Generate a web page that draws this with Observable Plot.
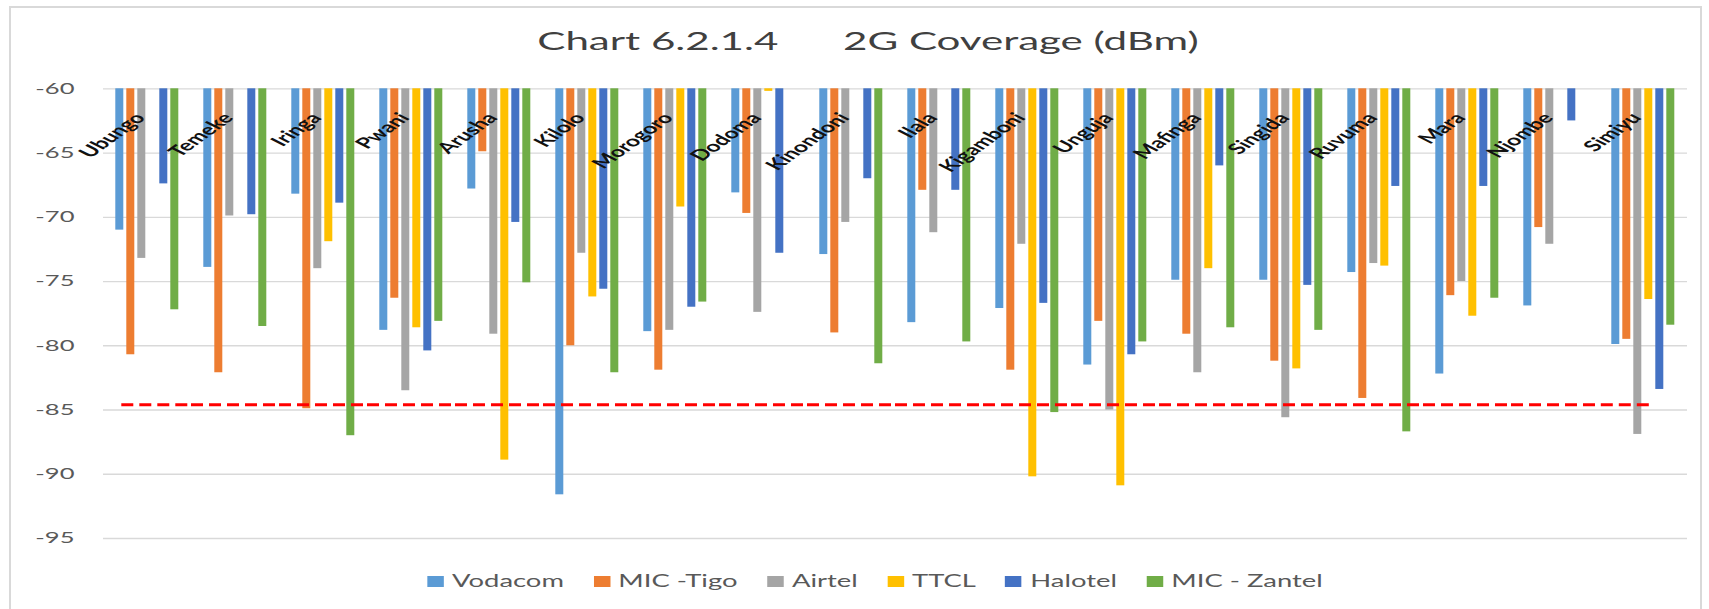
<!DOCTYPE html>
<html>
<head>
<meta charset="utf-8">
<script src="https://cdn.jsdelivr.net/npm/d3@7"></script>
<script src="https://cdn.jsdelivr.net/npm/@observablehq/plot@0.6"></script>
<style>
  body { margin: 0; background: #fff; font-family: Lato, "Open Sans", sans-serif; }
  #wrap { position: relative; width: 1709px; height: 609px; overflow: hidden; background: #fff; }
  #frame { position: absolute; left: 9px; top: 6px; width: 1693px; height: 640px; border: 2px solid #d9d9d9; box-sizing: border-box; pointer-events: none; }
  #title { position: absolute; left: 868px; top: 25px; transform: translateX(-50%) scaleX(1.65); font-size: 25.5px; line-height: 30px; color: #404040; white-space: pre; }
  #chart { position: absolute; left: 0; top: 60px; }
  #legend { position: absolute; left: 875px; top: 571px; transform: translateX(-50%) scaleX(1.65); display: flex; align-items: center; gap: 18px; font-size: 16.6px; line-height: 20px; color: #595959; white-space: nowrap; }
  #legend .item { display: flex; align-items: center; }
  #legend .sw { width: 10px; height: 11px; margin-right: 5px; display: inline-block; }
</style>
</head>
<body>
<div id="wrap">
  <div id="frame"></div>
  <div id="title">Chart 6.2.1.4      2G Coverage (dBm)</div>
  <div id="chart"></div>
  <div id="legend"></div>
</div>
<script>
// ---- data ----
const regions = ["Ubungo","Temeke","Iringa","Pwani","Arusha","Kilolo","Morogoro","Dodoma","Kinondoni","Ilala","Kigamboni","Unguja","Mafinga","Singida","Ruvuma","Mara","Njombe","Simiyu"];
const operators = ["Vodacom","MIC -Tigo","Airtel","TTCL","Halotel","MIC - Zantel"];
const colors = ["#5B9BD5","#ED7D31","#A5A5A5","#FFC000","#4472C4","#70AD47"];

const vodacom = [-71.0,-73.9,-68.2,-78.8,-67.8,-91.6,-78.9,-68.1,-72.9,-78.2,-77.1,-81.5,-74.9,-74.9,-74.3,-82.2,-76.9,-79.9];
const tigo    = [-80.7,-82.1,-84.9,-76.3,-64.9,-80.0,-81.9,-69.7,-79.0,-67.9,-81.9,-78.1,-79.1,-81.2,-84.1,-76.1,-70.8,-79.5];
const airtel  = [-73.2,-69.9,-74.0,-83.5,-79.1,-72.8,-78.8,-77.4,-70.4,-71.2,-72.1,-85.0,-82.1,-85.6,-73.6,-75.0,-72.1,-86.9];
const ttcl    = [null,null,-71.9,-78.6,-88.9,-76.2,-69.2,-60.2,null,null,-90.2,-90.9,-74.0,-81.8,-73.8,-77.7,null,-76.4];
const halotel = [-67.4,-69.8,-68.9,-80.4,-70.4,-75.6,-77.0,-72.8,-67.0,-67.9,-76.7,-80.7,-66.0,-75.3,-67.6,-67.6,-62.5,-83.4];
const zantel  = [-77.2,-78.5,-87.0,-78.1,-75.1,-82.1,-76.6,null,-81.4,-79.7,-85.2,-79.7,-78.6,-78.8,-86.7,-76.3,null,-78.4];

const yTicks = [-60,-65,-70,-75,-80,-85,-90,-95];
const baseline = -60;
const threshold = -84.6;

// ---- table ----
const series = [vodacom, tigo, airtel, ttcl, halotel, zantel];
const rows = [];
regions.forEach((r, i) => operators.forEach((o, j) => {
  const v = series[j][i];
  if (v != null) rows.push({region: r, operator: o, value: v});
}));

const K = 1.65; // horizontal stretch of the reference's text
const red = {stroke: "#ff0000", strokeWidth: 3, strokeDasharray: "12,6"};
const first = regions[0], last = regions[regions.length - 1];

const plot = Plot.plot({
  width: 1709,
  height: 490,
  marginTop: 28.3,
  marginBottom: 12,
  marginLeft: 100.7,
  marginRight: 20,
  style: {fontFamily: "Lato, 'Open Sans', sans-serif", background: "transparent", overflow: "visible"},
  fx: {domain: regions, padding: 0, axis: null},
  x: {domain: operators, paddingInner: 0.289, paddingOuter: 0.837, axis: null},
  y: {domain: [-95, -60]},
  color: {domain: operators, range: colors},
  marks: [
    Plot.ruleY(yTicks, {stroke: "#d9d9d9", strokeWidth: 1.3}),
    Plot.axisY(yTicks, {anchor: "left", tickSize: 0, tickPadding: 29, tickFormat: d => String(d), fontSize: 15.5, fill: "#595959", label: null}),
    Plot.barY(rows, {fx: "region", x: "operator", y1: () => baseline, y2: "value", fill: "operator"}),
    // threshold line: from the first bar of the first region to the TTCL bar of the last region
    Plot.ruleY([first], {fx: d => d, y: () => threshold, x1: () => operators[0], x2: () => operators[5], insetLeft: 6, insetRight: -10, ...red}),
    Plot.ruleY(regions.slice(1, -1), {fx: d => d, y: () => threshold, ...red}),
    Plot.ruleY([last], {fx: d => d, y: () => threshold, x1: () => operators[0], x2: () => operators[3], insetLeft: -10.5, insetRight: 2.5, ...red}),
    Plot.text(regions, {fx: d => d, text: d => d, frameAnchor: "top", rotate: -50, textAnchor: "end", lineAnchor: "bottom", dy: 29.5, dx: -1, fontSize: 15, fontWeight: "bold", fill: "#111"})
  ]
});

// stretch texts horizontally like the reference picture
plot.querySelectorAll("text").forEach(t => {
  const tr = t.getAttribute("transform");
  if (!tr || !tr.includes("translate")) return;
  t.setAttribute("transform", tr.includes("rotate") ? tr.replace("rotate", `scale(${K},1) rotate`) : `${tr} scale(${K},1)`);
});

document.getElementById("chart").appendChild(plot);

// legend
const legend = document.getElementById("legend");
operators.forEach((o, j) => {
  const item = document.createElement("span");
  item.className = "item";
  const sw = document.createElement("span");
  sw.className = "sw";
  sw.style.background = colors[j];
  const labEl = document.createElement("span");
  labEl.textContent = o;
  item.appendChild(sw);
  item.appendChild(labEl);
  legend.appendChild(item);
});
</script>
</body>
</html>
